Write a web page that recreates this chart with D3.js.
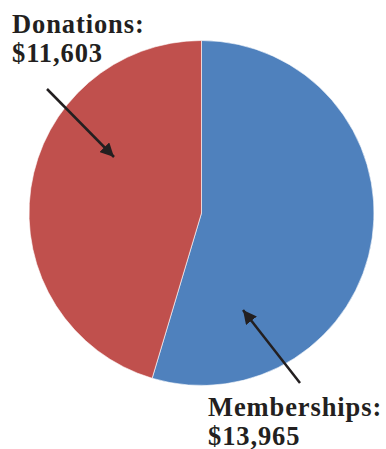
<!DOCTYPE html>
<html><head><meta charset="utf-8">
<script src="https://cdn.jsdelivr.net/npm/d3@7"></script>
<style>html,body{margin:0;padding:0;background:#fff;}svg{display:block;}</style>
</head><body>
<script>
const categories = ["Memberships", "Donations"];
const values = [13965, 11603];
const colors = ["#4F81BD", "#C0504D"];

const W = 386, H = 449;
const cx = 201.5, cy = 213, R = 172.5;

const svg = d3.select("body").append("svg").attr("width", W).attr("height", H);

const pie = d3.pie().sort(null).value(d => d.v);
const arc = d3.arc().innerRadius(0).outerRadius(R);
const data = categories.map((c, i) => ({c, v: values[i], col: colors[i]}));

svg.append("g").attr("transform", `translate(${cx},${cy})`)
  .selectAll("path").data(pie(data)).join("path")
  .attr("d", arc).attr("fill", d => d.data.col)
  .attr("stroke", "#fff").attr("stroke-width", 0.6);

const fmt = d3.format("$,");
const ink = "#231F20";
const labels = [
  {i: 1, x: 12, y: 33, arrow: [[47, 89], [114, 157]]},
  {i: 0, x: 208, y: 416, arrow: [[300, 383], [243, 310]]}
];

svg.append("defs").append("marker").attr("id", "ah")
  .attr("viewBox", "0 0 10 10").attr("refX", 10).attr("refY", 5)
  .attr("markerWidth", 5.5).attr("markerHeight", 5.5).attr("markerUnits", "strokeWidth")
  .attr("orient", "auto")
  .append("path").attr("d", "M0,0 L10,5 L0,10 Z").attr("fill", ink);

labels.forEach(l => {
  const t = svg.append("text").attr("x", l.x).attr("y", l.y)
    .attr("font-family", "'Liberation Serif', 'Times New Roman', serif")
    .attr("font-weight", "bold").attr("font-size", 26.5).attr("fill", ink)
    .attr("letter-spacing", 0.9);
  t.append("tspan").attr("x", l.x).text(categories[l.i] + ":");
  t.append("tspan").attr("x", l.x).attr("dy", 28.5).text(fmt(values[l.i]));
  const [a, b] = l.arrow;
  svg.append("line").attr("x1", a[0]).attr("y1", a[1]).attr("x2", b[0]).attr("y2", b[1])
    .attr("stroke", ink).attr("stroke-width", 2.5).attr("marker-end", "url(#ah)");
});
</script>
</body></html>
